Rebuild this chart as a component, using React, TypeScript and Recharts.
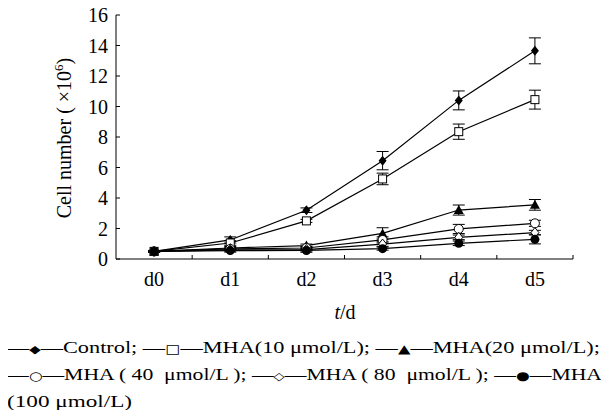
import { LineChart, Line, XAxis, YAxis, ErrorBar, Label } from 'recharts';

const days = ['d0', 'd1', 'd2', 'd3', 'd4', 'd5'];
const yTicks = [0, 2, 4, 6, 8, 10, 12, 14, 16];
const xTicks = [0, 0.5, 1, 1.5, 2, 2.5, 3, 3.5, 4, 4.5, 5, 5.5];

const control = [0.5, 1.25, 3.2, 6.45, 10.4, 13.65];
const controlErr = [0.05, 0.2, 0.15, 0.6, 0.62, 0.85];
const mha10 = [0.5, 1.05, 2.5, 5.25, 8.35, 10.45];
const mha10Err = [0.05, 0.15, 0.1, 0.38, 0.5, 0.62];
const mha20 = [0.5, 0.72, 0.88, 1.68, 3.21, 3.55];
const mha20Err = [0.05, 0.1, 0.1, 0.37, 0.33, 0.35];
const mha40 = [0.5, 0.66, 0.72, 1.25, 1.97, 2.34];
const mha40Err = [0.05, 0.1, 0.1, 0.2, 0.3, 0.2];
const mha80 = [0.5, 0.6, 0.62, 0.98, 1.42, 1.73];
const mha80Err = [0.05, 0.08, 0.1, 0.15, 0.15, 0.15];
const mha100 = [0.5, 0.55, 0.56, 0.68, 1.03, 1.29];
const mha100Err = [0.05, 0.1, 0.12, 0.1, 0.15, 0.3];

// caption under the chart, symbols kept in their own pieces
const legendLines = [
  ['—', '◆', '—Control; —', '□', '—MHA(10 μmol/L); —', '▲', '—MHA(20 μmol/L);'],
  ['—', '○', '—MHA ( 40  μmol/L ); —', '◇', '—MHA ( 80  μmol/L ); —', '●', '—MHA'],
  ['(100 μmol/L)'],
];
const legendWidths = [593, 595, 125];
const symbols = '◆□▲○◇●';

const rows = days.map((d, i) => ({
  x: i,
  day: d,
  control: control[i], controlErr: controlErr[i],
  mha10: mha10[i], mha10Err: mha10Err[i],
  mha20: mha20[i], mha20Err: mha20Err[i],
  mha40: mha40[i], mha40Err: mha40Err[i],
  mha80: mha80[i], mha80Err: mha80Err[i],
  mha100: mha100[i], mha100Err: mha100Err[i],
}));

const FONT = '"Liberation Serif", "Times New Roman", serif';

const makeDot = (kind: string) => (props: any) => {
  const { cx, cy, index } = props;
  const k = `${kind}-${index}`;
  if (cx == null || cy == null) return <g key={k} />;
  switch (kind) {
    case 'diamond':
      return <polygon key={k} points={`${cx},${cy - 5} ${cx + 4},${cy} ${cx},${cy + 5} ${cx - 4},${cy}`} fill="#000" />;
    case 'square':
      return <rect key={k} x={cx - 4} y={cy - 4} width={8} height={8} fill="#fff" stroke="#000" strokeWidth={1} />;
    case 'triangle':
      return <polygon key={k} points={`${cx},${cy - 5} ${cx + 5},${cy + 4} ${cx - 5},${cy + 4}`} fill="#000" />;
    case 'circle':
      return <circle key={k} cx={cx} cy={cy} r={4.5} fill="#fff" stroke="#000" strokeWidth={1} />;
    case 'odiamond':
      return <polygon key={k} points={`${cx},${cy - 5} ${cx + 4},${cy} ${cx},${cy + 5} ${cx - 4},${cy}`} fill="#fff" stroke="#000" strokeWidth={1} />;
    default:
      return <circle key={k} cx={cx} cy={cy} r={4.5} fill="#000" />;
  }
};

const XTick = (props: any) => {
  const { x, y, payload } = props;
  const v = payload.value;
  if (Number.isInteger(v)) {
    return (
      <text x={x} y={y + 27} textAnchor="middle" fontSize={20} fontFamily={FONT} fill="#000">
        {days[v]}
      </text>
    );
  }
  return <line x1={x} y1={y} x2={x} y2={y - 4} stroke="#000" strokeWidth={1} />;
};

const YTick = (props: any) => {
  const { x, y, payload } = props;
  return (
    <g>
      <line x1={x} y1={y} x2={x + 4} y2={y} stroke="#000" strokeWidth={1} />
      <text x={x - 8} y={y + 7} textAnchor="end" fontSize={20} fontFamily={FONT} fill="#000">
        {payload.value}
      </text>
    </g>
  );
};

const renderYLabel = () => (
  <text transform="rotate(-90, 64, 138)" x={64} y={145} textAnchor="middle" fontSize={20} fontFamily={FONT} fill="#000" style={{ whiteSpace: 'pre' }}>
    {'Cell number ( ×10'}<tspan dy={-8} fontSize={13}>6</tspan><tspan dy={8}>)</tspan>
  </text>
);

const renderXLabel = () => (
  <text x={345} y={319} textAnchor="middle" fontSize={20} fontFamily={FONT} fill="#000">
    <tspan fontStyle="italic">t</tspan>/d
  </text>
);

const series = [
  { key: 'control', dot: 'diamond' },
  { key: 'mha10', dot: 'square' },
  { key: 'mha20', dot: 'triangle' },
  { key: 'mha40', dot: 'circle' },
  { key: 'mha80', dot: 'odiamond' },
  { key: 'mha100', dot: 'fcircle' },
];

export default function App() {
  return (
    <div style={{ position: 'relative', margin: -8, width: 609, height: 418, background: '#fff' }}>
      <LineChart width={609} height={325} data={rows} margin={{ top: 15, right: 36, left: 0, bottom: 0 }}>
        <XAxis
          dataKey="x"
          type="number"
          domain={[-0.5, 5.5]}
          ticks={xTicks}
          interval={0}
          tick={<XTick />}
          tickLine={false}
          tickSize={0}
          tickMargin={0}
          height={66}
          axisLine={{ stroke: '#000', strokeWidth: 1 }}
        >
          <Label content={renderXLabel} />
        </XAxis>
        <YAxis
          type="number"
          domain={[0, 16]}
          ticks={yTicks}
          interval={0}
          width={116}
          tick={<YTick />}
          tickLine={false}
          tickSize={0}
          tickMargin={0}
          axisLine={{ stroke: '#000', strokeWidth: 1 }}
        >
          <Label content={renderYLabel} />
        </YAxis>
        {series.map((s) => (
          <Line
            key={s.key}
            dataKey={s.key}
            stroke="#000"
            strokeWidth={1.2}
            dot={makeDot(s.dot)}
            activeDot={false}
            isAnimationActive={false}
          >
            <ErrorBar dataKey={`${s.key}Err`} width={6} stroke="#000" strokeWidth={1} direction="y" />
          </Line>
        ))}
      </LineChart>
      <svg width={609} height={418} style={{ position: 'absolute', left: 0, top: 0, pointerEvents: 'none' }}>
        {legendLines.map((parts, i) => (
          <text
            key={i}
            x={7}
            y={353 + i * 27}
            fontSize={16.5}
            fontFamily={FONT}
            fill="#000"
            textLength={legendWidths[i]}
            lengthAdjust="spacingAndGlyphs"
            style={{ whiteSpace: 'pre' }}
          >
            {parts.map((p, j) =>
              symbols.includes(p) ? (
                <tspan key={j} fontFamily="DejaVu Sans" fontSize={p === '◆' || p === '◇' ? 11 : 12}>
                  {p}
                </tspan>
              ) : (
                <tspan key={j}>{p}</tspan>
              )
            )}
          </text>
        ))}
      </svg>
    </div>
  );
}
